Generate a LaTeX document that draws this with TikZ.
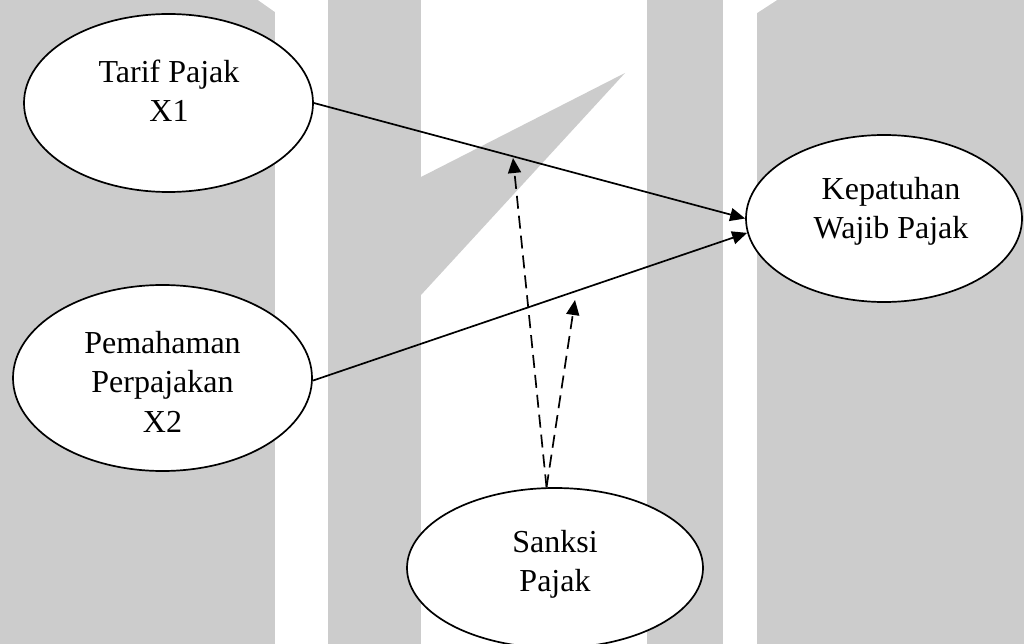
\documentclass[tikz,border=0pt]{standalone}
\usepackage{fontspec}
\setmainfont{Liberation Serif}
\usetikzlibrary{shapes.geometric,arrows.meta}
\definecolor{bandgrey}{HTML}{CCCCCC}
\begin{document}
\begin{tikzpicture}[x=1pt,y=-1pt,
  construct/.style={ellipse,draw=black,fill=white,line width=1.7pt,inner sep=0pt},
  caption/.style={align=center,inner sep=0pt,font=\fontsize{32}{39.5}\selectfont},
  link/.style={line width=1.7pt,-{Triangle[length=15pt,width=13pt]}},
  dashlink/.style={link,dash pattern=on 13pt off 7pt}]
\useasboundingbox (0,0) rectangle (1024,644);
\clip (0,0) rectangle (1024,644);

% striped backdrop with the slanted mark
\fill[bandgrey] (0,0) rectangle (1024,644);
\fill[white] (275,0) rectangle (328,644);
\fill[white] (421,0) rectangle (647,644);
\fill[white] (723,0) rectangle (757,644);
\fill[white] (258,0) -- (275,0) -- (275,12) -- cycle;
\fill[white] (757,0) -- (777,0) -- (757,13) -- cycle;
\fill[bandgrey] (421,177) -- (625,73) -- (421,295) -- cycle;

% constructs
\node[construct,minimum width=289pt,minimum height=178pt] (tarif) at (168.5,103) {};
\node[construct,minimum width=299pt,minimum height=186pt] (paham) at (162.5,378) {};
\node[construct,minimum width=276pt,minimum height=167pt] (patuh) at (884,218.5) {};
\node[construct,minimum width=296pt,minimum height=160pt] (sanksi) at (555,568) {};

\node[caption] (tarifText) at (169,90.6) {Tarif Pajak\\X1};
\node[caption] (pahamText) at (162.5,381.6) {Pemahaman\\Perpajakan\\X2};
\node[caption] (patuhText) at (891,211.5) {Kepatuhan\\Wajib Pajak};
\node[caption] (sanksiText) at (555,564.5) {Sanksi\\Pajak};

% direct effects
\draw[link] (tarif.east) -- (patuh.west);
\draw[link] (paham.-1.5) -- (patuh.186);

% moderating effects
\coordinate (onTarif) at (513,158);
\coordinate (onPaham) at (575,300);
\draw[dashlink] (sanksi.96) -- (onTarif);
\draw[dashlink] (sanksi.96) -- (onPaham);
\end{tikzpicture}
\end{document}
